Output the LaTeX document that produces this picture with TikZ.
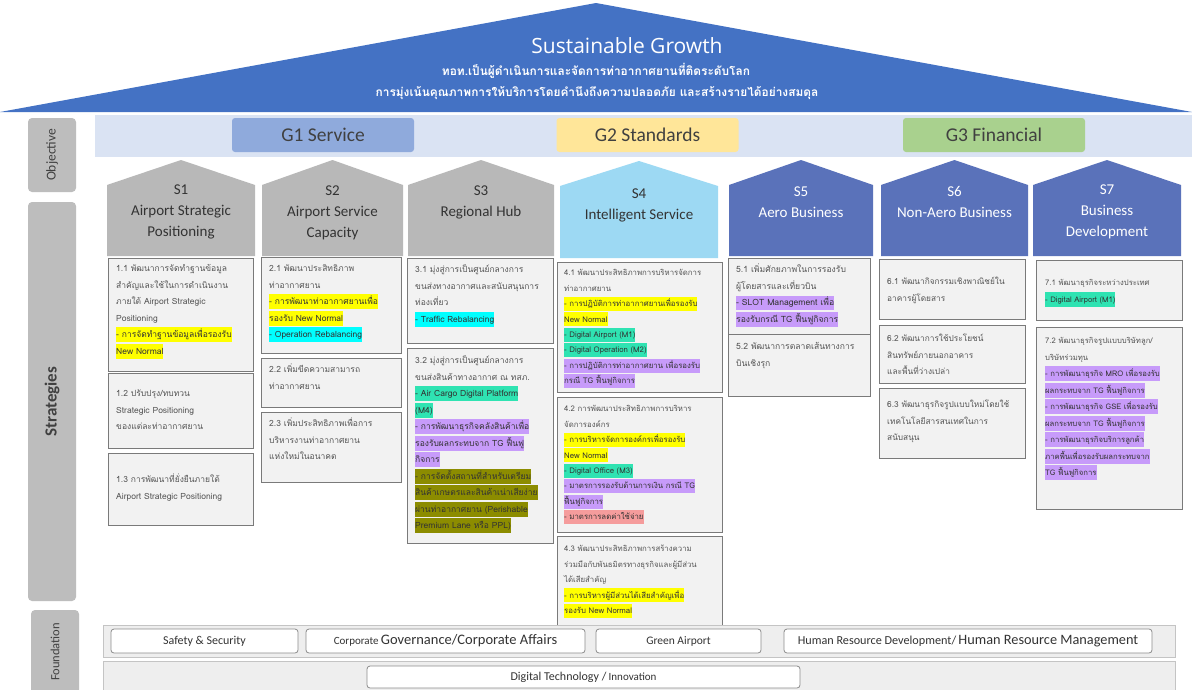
\documentclass[tikz,border=0pt]{standalone}
\usepackage{fontspec}
\setmainfont{Carlito}
\newfontfamily\thai[Script=Thai]{Loma}
\newfontfamily\opensans{Open Sans}
\definecolor{roof}{HTML}{4472C4}
\definecolor{objband}{HTML}{DAE3F3}
\definecolor{gone}{HTML}{8FAADC}
\definecolor{gtwo}{HTML}{FFE699}
\definecolor{gthree}{HTML}{A9D18E}
\definecolor{sgray}{HTML}{B8B8B8}
\definecolor{slight}{HTML}{9DD9F3}
\definecolor{sblue}{HTML}{5A72BA}
\definecolor{boxfill}{HTML}{F2F2F2}
\definecolor{boxline}{HTML}{7A7A7A}
\definecolor{txtgray}{HTML}{555555}
\definecolor{labgray}{HTML}{BDBDBD}
\definecolor{hy}{HTML}{FFFF00}
\definecolor{hc}{HTML}{00FFFF}
\definecolor{ht}{HTML}{2FE3B2}
\definecolor{hp}{HTML}{C79BFA}
\definecolor{ho}{HTML}{8C8C00}
\definecolor{hs}{HTML}{F59C9C}
\definecolor{fband}{HTML}{EEEEEE}
\definecolor{fline}{HTML}{C4C4C4}
\newcommand{\Ls}{\rule[-0.3\baselineskip]{0pt}{\baselineskip}}
\newcommand{\hl}[2]{{\setlength{\fboxsep}{0pt}\colorbox{#1}{\rule[-0.27\baselineskip]{0pt}{0.9\baselineskip}\color{black!80}#2}}}
\begin{document}
\begin{tikzpicture}[x=1pt,y=-1pt,
  box/.style={draw=boxline, fill=boxfill, line width=1pt, anchor=north west, inner sep=0pt, minimum width=#1},
  txt/.style={anchor=north west, align=left, inner sep=0pt, text=txtgray, font=\thai\fontsize{#1}{16.5}\selectfont},
  txtc/.style={anchor=north west, align=left, inner sep=0pt, text=txtgray, font=\thai\fontsize{7.8}{15.4}\selectfont},
  stext/.style={align=center, inner sep=0pt, font=\fontsize{15}{21}\selectfont},
  gbox/.style={rounded corners=3pt, minimum width=182pt, minimum height=34pt, inner sep=0pt, font=\fontsize{19.5}{22}\selectfont, text=black!75},
  side/.style={fill=labgray, rounded corners=4pt, inner sep=0pt, minimum height=48pt, text=black!75, rotate=90},
  fbox/.style={draw=black!45, fill=white, rounded corners=3pt, line width=0.8pt, minimum height=24pt, inner sep=0pt, text=black!80}]
\useasboundingbox (0,0) rectangle (1192,689);
\fill[white] (0,0) rectangle (1192,689);

% ---- roof
\fill[roof] (0,112) -- (596,3) -- (1192,112) -- cycle;
\node[text=white, font=\opensans\fontsize{21}{24}\selectfont, inner sep=0pt] (title) at (627,46) {Sustainable Growth};
\node[text=white, font=\thai\bfseries\fontsize{11.9}{14}\selectfont, inner sep=0pt] (vis1) at (596,71) {ทอท.เป็นผู้ดำเนินการและจัดการท่าอากาศยานที่ติดระดับโลก};
\node[text=white, font=\thai\bfseries\fontsize{11.9}{14}\selectfont, inner sep=0pt] (vis2) at (597,93) {การมุ่งเน้นคุณภาพการให้บริการโดยคำนึงถึงความปลอดภัย และสร้างรายได้อย่างสมดุล};

% ---- side labels
\node[side, minimum width=74pt, font=\fontsize{13.5}{15}\selectfont] (lobj) at (52,155) {Objective};
\node[side, minimum width=399pt, font=\bfseries\fontsize{17}{19}\selectfont] (lstr) at (52,401.5) {Strategies};
\node[side, minimum width=84pt, font=\fontsize{12.5}{14}\selectfont] (lfou) at (55,652) {Foundation};

% ---- objective band
\fill[objband] (95,115) rectangle (1192,157);
\node[gbox, fill=gone] (g1) at (323,135) {G1 Service};
\node[gbox, fill=gtwo] (g2) at (647.5,135) {G2 Standards};
\node[gbox, fill=gthree] (g3) at (994,135) {G3 Financial};

% ---- strategy pentagons
\fill[sgray] (107,256) -- (107,185) -- (181,160) -- (255,185) -- (255,256) -- cycle;
\fill[sgray] (262,256) -- (262,185) -- (332.5,160) -- (403,185) -- (403,256) -- cycle;
\fill[sgray] (408,256) -- (408,185) -- (481,160) -- (554,185) -- (554,256) -- cycle;
\fill[slight] (560,258) -- (560,186) -- (639,161) -- (718,186) -- (718,258) -- cycle;
\fill[sblue] (729,256) -- (729,185) -- (801,160) -- (873,185) -- (873,256) -- cycle;
\fill[sblue] (881,256) -- (881,185) -- (954.5,160) -- (1028,185) -- (1028,256) -- cycle;
\fill[sblue] (1033,256) -- (1033,185) -- (1107,160) -- (1181,185) -- (1181,256) -- cycle;
\node[stext, text=black!80] (s1) at (181,212) {S1\\Airport Strategic\\Positioning};
\node[stext, text=black!80] (s2) at (332.5,213) {S2\\Airport Service\\Capacity};
\node[stext, text=black!80] (s3) at (481,202) {S3\\Regional Hub};
\node[stext, text=black!80] (s4) at (639,205) {S4\\Intelligent Service};
\node[stext, text=white] (s5) at (801,202) {S5\\Aero Business};
\node[stext, text=white] (s6) at (954.5,202) {S6\\Non-Aero Business};
\node[stext, text=white] (s7) at (1107,212) {S7\\Business\\Development};

% ---- S1 boxes
\node[box=145pt, minimum height=113pt] (b11) at (108,258) {};
\node[txt=8.5] (t11) at ([xshift=8pt,yshift=-2pt]b11.north west) {\Ls 1.1 พัฒนาการจัดทำฐานข้อมูล\\\Ls สำคัญและใช้ในการดำเนินงาน\\\Ls ภายใต้ Airport Strategic\\\Ls Positioning\\\Ls\hl{hy}{- การจัดทำฐานข้อมูลเพื่อรองรับ}\\\Ls\hl{hy}{New Normal}};
\node[box=145pt, minimum height=75pt] (b12) at (108,373) {};
\node[txt=8.5] (t12) at ([xshift=8pt,yshift=-12pt]b12.north west) {\Ls 1.2 ปรับปรุง/ทบทวน\\\Ls Strategic Positioning\\\Ls ของแต่ละท่าอากาศยาน};
\node[box=145pt, minimum height=72pt] (b13) at (108,453) {};
\node[txt=8.5] (t13) at ([xshift=8pt,yshift=-18pt]b13.north west) {\Ls 1.3 การพัฒนาที่ยั่งยืนภายใต้\\\Ls Airport Strategic Positioning};

% ---- S2 boxes
\node[box=140pt, minimum height=96pt] (b21) at (261,257) {};
\node[txt=8.5] (t21) at ([xshift=8pt,yshift=-3pt]b21.north west) {\Ls 2.1 พัฒนาประสิทธิภาพ\\\Ls ท่าอากาศยาน\\\Ls\hl{hy}{- การพัฒนาท่าอากาศยานเพื่อ}\\\Ls\hl{hy}{รองรับ New Normal}\\\Ls\hl{hc}{- Operation Rebalancing}};
\node[box=140pt, minimum height=49pt] (b22) at (261,358) {};
\node[txt=8.5] (t22) at ([xshift=8pt,yshift=-3pt]b22.north west) {\Ls 2.2 เพิ่มขีดความสามารถ\\\Ls ท่าอากาศยาน};
\node[box=140pt, minimum height=70pt] (b23) at (261,412) {};
\node[txt=8.5] (t23) at ([xshift=8pt,yshift=-3pt]b23.north west) {\Ls 2.3 เพิ่มประสิทธิภาพเพื่อการ\\\Ls บริหารงานท่าอากาศยาน\\\Ls แห่งใหม่ในอนาคต};

% ---- S3 boxes
\node[box=146pt, minimum height=85pt] (b31) at (407,258) {};
\node[txt=8.5] (t31) at ([xshift=8pt,yshift=-3pt]b31.north west) {\Ls 3.1 มุ่งสู่การเป็นศูนย์กลางการ\\\Ls ขนส่งทางอากาศและสนับสนุนการ\\\Ls ท่องเที่ยว\\\Ls\hl{hc}{- Traffic Rebalancing}};
\node[box=146pt, minimum height=195pt] (b32) at (407,348) {};
\node[txt=8.5] (t32) at ([xshift=8pt,yshift=-4pt]b32.north west) {\Ls 3.2 มุ่งสู่การเป็นศูนย์กลางการ\\\Ls ขนส่งสินค้าทางอากาศ ณ ทสภ.\\\Ls\hl{ht}{- Air Cargo Digital Platform}\\\Ls\hl{ht}{(M4)}\\\Ls\hl{hp}{- การพัฒนาธุรกิจคลังสินค้าเพื่อ}\\\Ls\hl{hp}{รองรับผลกระทบจาก TG ฟื้นฟู}\\\Ls\hl{hp}{กิจการ}\\\Ls\hl{ho}{- การจัดตั้งสถานที่สำหรับเตรียม}\\\Ls\hl{ho}{สินค้าเกษตรและสินค้าเน่าเสียง่าย}\\\Ls\hl{ho}{ผ่านท่าอากาศยาน (Perishable}\\\Ls\hl{ho}{Premium Lane หรือ PPL)}};

% ---- S4 boxes
\node[box=165pt, minimum height=130pt] (b41) at (557,262) {};
\node[txtc] (t41) at ([xshift=7pt,yshift=-3pt]b41.north west) {\Ls 4.1 พัฒนาประสิทธิภาพการบริหารจัดการ\\\Ls ท่าอากาศยาน\\\Ls\hl{hy}{- การปฏิบัติการท่าอากาศยานเพื่อรองรับ}\\\Ls\hl{hy}{New Normal}\\\Ls\hl{ht}{- Digital Airport (M1)}\\\Ls\hl{ht}{- Digital Operation (M2)}\\\Ls\hl{hp}{- การปฏิบัติการท่าอากาศยาน เพื่อรองรับ}\\\Ls\hl{hp}{กรณี TG ฟื้นฟูกิจการ}};
\node[box=165pt, minimum height=135pt] (b42) at (557,397) {};
\node[txtc] (t42) at ([xshift=7pt,yshift=-4pt]b42.north west) {\Ls 4.2 การพัฒนาประสิทธิภาพการบริหาร\\\Ls จัดการองค์กร\\\Ls\hl{hy}{- การบริหารจัดการองค์กรเพื่อรองรับ}\\\Ls\hl{hy}{New Normal}\\\Ls\hl{ht}{- Digital Office (M3)}\\\Ls\hl{hp}{- มาตรการรองรับด้านการเงิน กรณี TG}\\\Ls\hl{hp}{ฟื้นฟูกิจการ}\\\Ls\hl{hs}{- มาตรการลดค่าใช้จ่าย}};
\node[box=165pt, minimum height=90pt] (b43) at (557,536) {};
\node[txtc] (t43) at ([xshift=7pt,yshift=-5pt]b43.north west) {\Ls 4.3 พัฒนาประสิทธิภาพการสร้างความ\\\Ls ร่วมมือกับพันธมิตรทางธุรกิจและผู้มีส่วน\\\Ls ได้เสียสำคัญ\\\Ls\hl{hy}{- การบริหารผู้มีส่วนได้เสียสำคัญเพื่อ}\\\Ls\hl{hy}{รองรับ New Normal}};

% ---- S5 boxes
\node[box=142pt, minimum height=76pt] (b51) at (728,258) {};
\node[txt=8.6] (t51) at ([xshift=8pt,yshift=-4pt]b51.north west) {\fontsize{8.6}{15.4}\selectfont\Ls 5.1 เพิ่มศักยภาพในการรองรับ\\\Ls ผู้โดยสารและเที่ยวบิน\\\Ls\hl{hp}{- SLOT Management เพื่อ}\\\Ls\hl{hp}{รองรับกรณี TG ฟื้นฟูกิจการ}};
\node[box=142pt, minimum height=62pt] (b52) at (728,334) {};
\node[txt=8.6] (t52) at ([xshift=8pt,yshift=-5pt]b52.north west) {\fontsize{8.6}{15.4}\selectfont\Ls 5.2 พัฒนาการตลาดเส้นทางการ\\\Ls บินเชิงรุก};

% ---- S6 boxes
\node[box=146pt, minimum height=60pt] (b61) at (879,259) {};
\node[txt=8.3] (t61) at ([xshift=8pt,yshift=-14pt]b61.north west) {\Ls 6.1 พัฒนากิจกรรมเชิงพาณิชย์ใน\\\Ls อาคารผู้โดยสาร};
\node[box=146pt, minimum height=58pt] (b62) at (879,325) {};
\node[txt=8.3] (t62) at ([xshift=8pt,yshift=-5pt]b62.north west) {\Ls 6.2 พัฒนาการใช้ประโยชน์\\\Ls สินทรัพย์ภายนอกอาคาร\\\Ls และพื้นที่ว่างเปล่า};
\node[box=146pt, minimum height=70pt] (b63) at (879,388) {};
\node[txt=8.3] (t63) at ([xshift=8pt,yshift=-8pt]b63.north west) {\Ls 6.3 พัฒนาธุรกิจรูปแบบใหม่โดยใช้\\\Ls เทคโนโลยีสารสนเทศในการ\\\Ls สนับสนุน};

% ---- S7 boxes
\node[box=146pt, minimum height=60pt] (b71) at (1036,260) {};
\node[txt=7.7] (t71) at ([xshift=9pt,yshift=-14pt]b71.north west) {\Ls 7.1 พัฒนาธุรกิจระหว่างประเทศ\\\Ls\hl{ht}{- Digital Airport (M1)}};
\node[box=146pt, minimum height=182pt] (b72) at (1036,327) {};
\node[txt=7.7] (t72) at ([xshift=9pt,yshift=-5pt]b72.north west) {\Ls 7.2 พัฒนาธุรกิจรูปแบบบริษัทลูก/\\\Ls บริษัทร่วมทุน\\\Ls\hl{hp}{- การพัฒนาธุรกิจ MRO เพื่อรองรับ}\\\Ls\hl{hp}{ผลกระทบจาก TG ฟื้นฟูกิจการ}\\\Ls\hl{hp}{- การพัฒนาธุรกิจ GSE เพื่อรองรับ}\\\Ls\hl{hp}{ผลกระทบจาก TG ฟื้นฟูกิจการ}\\\Ls\hl{hp}{- การพัฒนาธุรกิจบริการลูกค้า}\\\Ls\hl{hp}{ภาคพื้นเพื่อรองรับผลกระทบจาก}\\\Ls\hl{hp}{TG ฟื้นฟูกิจการ}};

% ---- foundation
\draw[fill=fband, draw=fline] (103,625) rectangle (1175,657);
\draw[fill=fband, draw=fline] (103,661) rectangle (1175,692);
\node[fbox, minimum width=187pt, font=\fontsize{12}{14}\selectfont] (f1) at (204.5,641) {Safety \& Security};
\node[fbox, minimum width=279pt] (f2) at (445.5,641) {{\fontsize{11}{14}\selectfont Corporate} {\fontsize{14.5}{14}\selectfont Governance/Corporate Affairs}};
\node[fbox, minimum width=165pt, font=\fontsize{11.5}{14}\selectfont] (f3) at (678.5,641) {Green Airport};
\node[fbox, minimum width=368pt] (f4) at (968,641) {{\fontsize{12.2}{14}\selectfont Human Resource Development/} {\fontsize{14.3}{14}\selectfont Human Resource Management}};
\node[fbox, minimum width=433pt, minimum height=22pt] (f5) at (583.5,677) {{\fontsize{12}{14}\selectfont Digital Technology /} {\fontsize{11}{14}\selectfont Innovation}};
\end{tikzpicture}
\end{document}
